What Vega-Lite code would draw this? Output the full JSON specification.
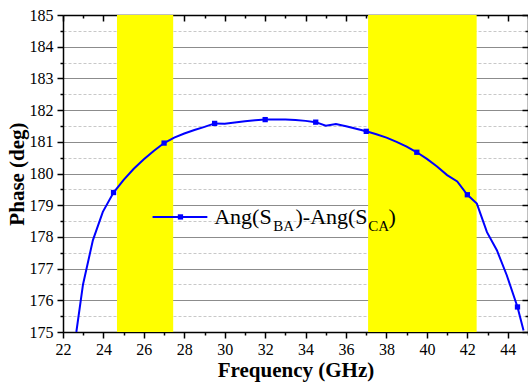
{
  "$schema": "https://vega.github.io/schema/vega-lite/v6.json",
  "autosize": "none",
  "padding": {"left": 63, "top": 15, "right": 0, "bottom": 51},
  "width": 465,
  "height": 317,
  "config": {
    "font": "serif",
    "view": {"stroke": null},
    "text": {"font": "serif"},
    "axis": {
      "labelFont": "serif", "labelFontSize": 16, "labelColor": "black",
      "titleFont": "serif", "titleFontSize": 21, "titleFontWeight": "bold", "titleColor": "black",
      "domainColor": "black", "tickColor": "black", "domainWidth": 1.5, "tickWidth": 1.5,
      "grid": false, "labelOverlap": false, "labelFlush": false
    }
  },
  "datasets": {
    "bands": [{"start": 24.67, "end": 27.45}, {"start": 37.09, "end": 42.46}],
    "curve": [
      {"freq": 22.66, "phase": 175.0}, {"freq": 22.99, "phase": 176.5}, {"freq": 23.48, "phase": 177.9},
      {"freq": 23.97, "phase": 178.79}, {"freq": 24.5, "phase": 179.4}, {"freq": 25.0, "phase": 179.8},
      {"freq": 25.5, "phase": 180.15}, {"freq": 26.0, "phase": 180.45}, {"freq": 26.5, "phase": 180.72},
      {"freq": 27.0, "phase": 180.96}, {"freq": 27.5, "phase": 181.13}, {"freq": 28.0, "phase": 181.26},
      {"freq": 28.5, "phase": 181.37}, {"freq": 29.0, "phase": 181.47}, {"freq": 29.5, "phase": 181.58},
      {"freq": 30.0, "phase": 181.57}, {"freq": 30.5, "phase": 181.61}, {"freq": 31.0, "phase": 181.65},
      {"freq": 31.5, "phase": 181.68}, {"freq": 32.0, "phase": 181.7}, {"freq": 32.5, "phase": 181.7},
      {"freq": 33.0, "phase": 181.7}, {"freq": 33.5, "phase": 181.69}, {"freq": 34.0, "phase": 181.66},
      {"freq": 34.5, "phase": 181.62}, {"freq": 35.0, "phase": 181.51}, {"freq": 35.5, "phase": 181.56},
      {"freq": 36.0, "phase": 181.49}, {"freq": 36.5, "phase": 181.41}, {"freq": 37.0, "phase": 181.33},
      {"freq": 37.5, "phase": 181.24}, {"freq": 38.0, "phase": 181.13}, {"freq": 38.5, "phase": 181.0},
      {"freq": 39.0, "phase": 180.85}, {"freq": 39.5, "phase": 180.67}, {"freq": 40.0, "phase": 180.46},
      {"freq": 40.5, "phase": 180.22}, {"freq": 41.0, "phase": 179.95}, {"freq": 41.5, "phase": 179.75},
      {"freq": 42.0, "phase": 179.33}, {"freq": 42.47, "phase": 179.05}, {"freq": 42.97, "phase": 178.15},
      {"freq": 43.46, "phase": 177.58}, {"freq": 43.95, "phase": 176.79}, {"freq": 44.48, "phase": 175.79},
      {"freq": 44.78, "phase": 175.05}
    ],
    "markers": [
      {"freq": 24.5, "phase": 179.4}, {"freq": 27.0, "phase": 180.96}, {"freq": 29.5, "phase": 181.58},
      {"freq": 32.0, "phase": 181.7}, {"freq": 34.5, "phase": 181.62}, {"freq": 37.0, "phase": 181.33},
      {"freq": 39.5, "phase": 180.67}, {"freq": 42.0, "phase": 179.33}, {"freq": 44.48, "phase": 175.79}
    ]
  },
  "resolve": {"axis": {"x": "independent", "y": "independent"}},
  "layer": [
    {
      "data": {"name": "bands"},
      "mark": {"type": "rect", "color": "#FFFF00"},
      "encoding": {
        "x": {"field": "start", "type": "quantitative", "scale": {"domain": [22, 45]},
          "axis": {
            "orient": "bottom", "title": "Frequency (GHz)",
            "labelFont": "serif", "titleFont": "serif",
            "values": [22,23,24,25,26,27,28,29,30,31,32,33,34,35,36,37,38,39,40,41,42,43,44,45],
            "labelExpr": "datum.value % 2 === 0 && datum.value < 45 ? format(datum.value, 'd') : ''",
            "tickSize": {"condition": {"test": "datum.value % 2 === 0", "value": 6}, "value": 3},
            "labelPadding": 3, "titlePadding": 2
          }
        },
        "x2": {"field": "end"}
      }
    },
    {
      "data": {"name": "curve"},
      "mark": {"type": "line", "color": "#0000FF", "strokeWidth": 2, "clip": true},
      "encoding": {
        "x": {"field": "freq", "type": "quantitative", "scale": {"domain": [22, 45]},
          "axis": {
            "orient": "top", "title": null, "labels": false,
            "values": [22,23,24,25,26,27,28,29,30,31,32,33,34,35,36,37,38,39,40,41,42,43,44,45],
            "tickSize": {"condition": {"test": "datum.value % 2 === 0", "value": -6}, "value": -3}
          }
        },
        "y": {"field": "phase", "type": "quantitative", "scale": {"domain": [175, 185]},
          "axis": {
            "orient": "left", "title": "Phase (deg)",
            "labelFont": "serif", "titleFont": "serif",
            "values": [175,175.5,176,176.5,177,177.5,178,178.5,179,179.5,180,180.5,181,181.5,182,182.5,183,183.5,184,184.5,185],
            "labelExpr": "datum.value % 1 === 0 ? format(datum.value, 'd') : ''",
            "tickSize": {"condition": {"test": "datum.value % 1 === 0", "value": 6}, "value": 3},
            "grid": true,
            "gridColor": {"condition": {"test": "datum.value % 1 === 0", "value": "#8c8c8c"}, "value": "#c8c8c8"},
            "gridDash": {"condition": {"test": "datum.value % 1 === 0", "value": []}, "value": [3, 2]},
            "gridWidth": 1,
            "labelPadding": 4, "titlePadding": 2
          }
        }
      }
    },
    {
      "data": {"name": "markers"},
      "mark": {"type": "point", "shape": "square", "filled": true, "color": "#0000FF", "size": 28, "opacity": 1},
      "encoding": {
        "x": {"field": "freq", "type": "quantitative", "scale": {"domain": [22, 45]}, "axis": null},
        "y": {"field": "phase", "type": "quantitative", "scale": {"domain": [175, 185]},
          "axis": {
            "orient": "right", "title": null, "labels": false,
            "values": [175,175.5,176,176.5,177,177.5,178,178.5,179,179.5,180,180.5,181,181.5,182,182.5,183,183.5,184,184.5,185],
            "tickSize": {"condition": {"test": "datum.value % 1 === 0", "value": -6}, "value": -3}
          }
        }
      }
    },
    {
      "data": {"values": [{"series": "Ang(SBA)-Ang(SCA)"}]},
      "mark": {"type": "rule", "color": "#0000FF", "strokeWidth": 2},
      "encoding": {
        "x": {"datum": 26.43, "type": "quantitative", "scale": {"domain": [22, 45]}, "axis": null},
        "x2": {"datum": 29.14},
        "y": {"datum": 178.63, "type": "quantitative", "scale": {"domain": [175, 185]}, "axis": null}
      }
    },
    {
      "data": {"values": [{"series": "Ang(SBA)-Ang(SCA)"}]},
      "mark": {"type": "point", "shape": "square", "filled": true, "color": "#0000FF", "size": 28, "opacity": 1},
      "encoding": {
        "x": {"datum": 27.81, "type": "quantitative", "scale": {"domain": [22, 45]}, "axis": null},
        "y": {"datum": 178.63, "type": "quantitative", "scale": {"domain": [175, 185]}, "axis": null}
      }
    },
    {
      "data": {"values": [{"t": "Ang(S"}]},
      "mark": {"type": "text", "font": "serif", "fontSize": 22, "align": "left", "baseline": "alphabetic", "color": "black"},
      "encoding": {
        "x": {"datum": 29.48, "type": "quantitative", "scale": {"domain": [22, 45]}, "axis": null},
        "y": {"datum": 178.42, "type": "quantitative", "scale": {"domain": [175, 185]}, "axis": null},
        "text": {"field": "t"}
      }
    },
    {
      "data": {"values": [{"t": "BA"}]},
      "mark": {"type": "text", "font": "serif", "fontSize": 15, "align": "left", "baseline": "alphabetic", "color": "black"},
      "encoding": {
        "x": {"datum": 32.4, "type": "quantitative", "scale": {"domain": [22, 45]}, "axis": null},
        "y": {"datum": 178.19, "type": "quantitative", "scale": {"domain": [175, 185]}, "axis": null},
        "text": {"field": "t"}
      }
    },
    {
      "data": {"values": [{"t": ")-Ang(S"}]},
      "mark": {"type": "text", "font": "serif", "fontSize": 22, "align": "left", "baseline": "alphabetic", "color": "black"},
      "encoding": {
        "x": {"datum": 33.5, "type": "quantitative", "scale": {"domain": [22, 45]}, "axis": null},
        "y": {"datum": 178.42, "type": "quantitative", "scale": {"domain": [175, 185]}, "axis": null},
        "text": {"field": "t"}
      }
    },
    {
      "data": {"values": [{"t": "CA"}]},
      "mark": {"type": "text", "font": "serif", "fontSize": 15, "align": "left", "baseline": "alphabetic", "color": "black"},
      "encoding": {
        "x": {"datum": 37.1, "type": "quantitative", "scale": {"domain": [22, 45]}, "axis": null},
        "y": {"datum": 178.19, "type": "quantitative", "scale": {"domain": [175, 185]}, "axis": null},
        "text": {"field": "t"}
      }
    },
    {
      "data": {"values": [{"t": ")"}]},
      "mark": {"type": "text", "font": "serif", "fontSize": 22, "align": "left", "baseline": "alphabetic", "color": "black"},
      "encoding": {
        "x": {"datum": 38.1, "type": "quantitative", "scale": {"domain": [22, 45]}, "axis": null},
        "y": {"datum": 178.42, "type": "quantitative", "scale": {"domain": [175, 185]}, "axis": null},
        "text": {"field": "t"}
      }
    }
  ]
}
